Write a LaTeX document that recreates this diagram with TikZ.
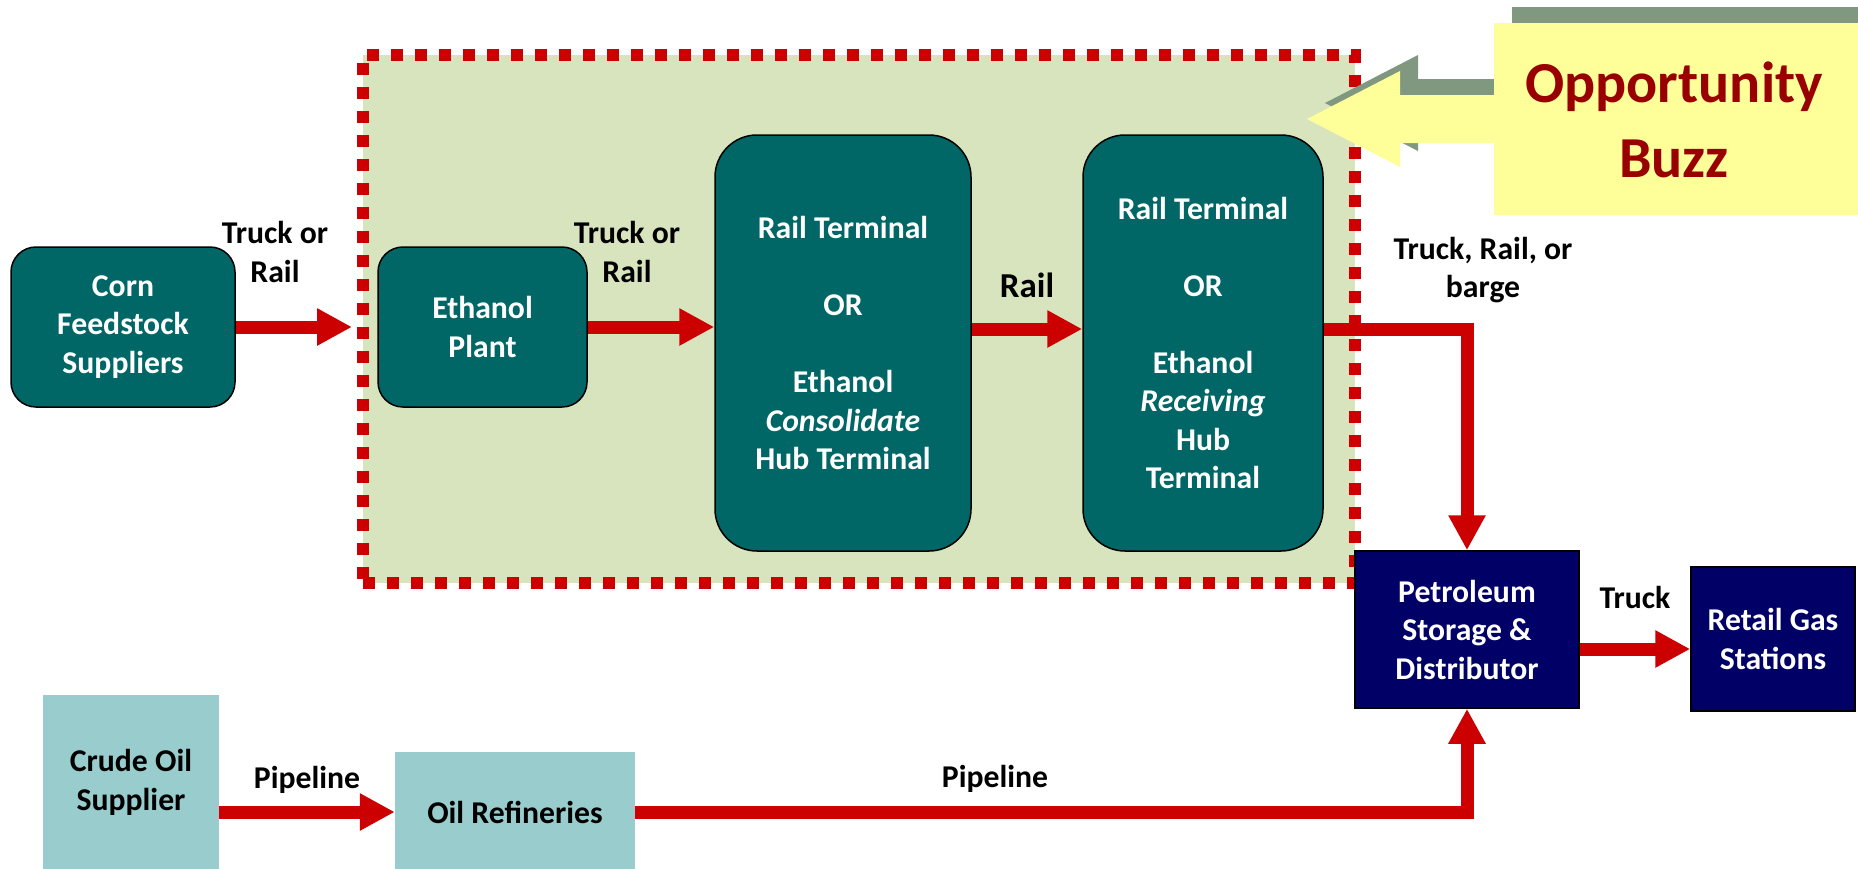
\documentclass[tikz,border=0pt]{standalone}
\usepackage{fontspec}
\setmainfont{Carlito}
\usetikzlibrary{arrows.meta}
\definecolor{hubteal}{RGB}{0,102,102}
\definecolor{zonegreen}{RGB}{216,228,190}
\definecolor{flowred}{RGB}{204,0,0}
\definecolor{depotnavy}{RGB}{0,0,102}
\definecolor{oilteal}{RGB}{153,204,204}
\definecolor{buzzyellow}{RGB}{255,255,153}
\definecolor{buzzshadow}{RGB}{128,152,128}
\definecolor{buzztext}{RGB}{153,0,0}
\begin{document}
\begin{tikzpicture}[x=1pt,y=-1pt,
  lbl/.style={font=\fontsize{31.7}{38.5}\selectfont\bfseries, align=center, inner sep=0pt},
  hub/.style={lbl, draw=black, line width=1.5pt, fill=hubteal, text=white},
  depot/.style={lbl, draw=black, line width=1.5pt, fill=depotnavy, text=white},
  oil/.style={lbl, fill=oilteal, text=black},
  flow/.style={draw=flowred, line width=13pt, line join=miter,
    -{Triangle[length=35pt,width=35pt]}},
]
\useasboundingbox (0,0) rectangle (1858,868);

% ethanol supply-chain zone with dotted red frame
\node[draw=flowred, fill=zonegreen, line width=12pt, dash pattern=on 12pt off 12pt,
      minimum width=992pt, minimum height=528pt, inner sep=0pt] (zone) at (859,319) {};

% rows used by connectors that do not run through box centres
\coordinate (railrow) at (0,329);
\coordinate (truckrow) at (0,649);

% ethanol chain
\node[hub, rounded corners=25pt, minimum width=224pt, minimum height=160pt] (corn) at (123,327)
  {Corn\\Feedstock\\Suppliers};
\node[hub, rounded corners=25pt, minimum width=209pt, minimum height=160pt] (plant) at (482.5,327)
  {Ethanol\\Plant};
\node[hub, rounded corners=42pt, minimum width=256pt, minimum height=416pt] (cons) at (843,343)
  {Rail Terminal\\[38.5pt]OR\\[38.5pt]Ethanol\\\itshape Consolidate\\Hub Terminal};
\node[hub, rounded corners=42pt, minimum width=240pt, minimum height=416pt] (recv) at (1203,343)
  {Rail Terminal\\[38.5pt]OR\\[38.5pt]Ethanol\\\itshape Receiving\\Hub\\Terminal};

% petroleum side
\node[depot, minimum width=224pt, minimum height=157pt] (pet) at (1467,629.5)
  {Petroleum\\Storage \&\\Distributor};
\node[depot, minimum width=164pt, minimum height=144pt] (retail) at (1773,639)
  {Retail Gas\\Stations};
\node[oil, minimum width=176pt, minimum height=175pt] (crude) at (131,782.5)
  {Crude Oil\\Supplier};
\node[oil, minimum width=240pt, minimum height=120pt] (ref) at (515,812)
  {Oil Refineries};

% connectors
\draw[flow, shorten >=5pt] (corn.east) -- (corn.east -| zone.west);
\draw[flow] (plant.east) -- (plant.east -| cons.west);
\draw[flow] (cons.east |- railrow) -- (recv.west |- railrow);
\draw[flow] (recv.east |- railrow) -| (pet.north);
\draw[flow] (pet.east |- truckrow) -- (retail.west |- truckrow);
\draw[flow] (crude.east |- ref.west) -- (ref.west);
\draw[flow] (ref.east) -| (pet.south);

% connector labels
\node[lbl] (l1) at (275,252) {Truck or\\Rail};
\node[lbl] (l2) at (627,252) {Truck or\\Rail};
\node[lbl, font=\fontsize{35}{42}\selectfont\bfseries] (l3) at (1027,285) {Rail};
\node[lbl] (l4) at (1483,270) {Truck, Rail, or\\barge};
\node[lbl] (l5) at (1635,597) {Truck};
\node[lbl] (l6) at (307,780) {Pipeline};
\node[lbl] (l7) at (995,779) {Pipeline};

% call-out arrow with its offset shadow
\fill[buzzshadow, xshift=18pt, yshift=16pt]
  (1307,119) -- (1400,71) -- (1400,95) -- (1494,95) -- (1494,23) -- (1900,23)
  -- (1900,215) -- (1494,215) -- (1494,143) -- (1400,143) -- (1400,167) -- cycle;
\fill[buzzyellow]
  (1307,119) -- (1400,71) -- (1400,95) -- (1494,95) -- (1494,23) -- (1900,23)
  -- (1900,215) -- (1494,215) -- (1494,143) -- (1400,143) -- (1400,167) -- cycle;
\node[lbl, font=\fontsize{58}{75}\selectfont\bfseries, text=buzztext] (buzz) at (1674,120)
  {Opportunity\\Buzz};
\end{tikzpicture}
\end{document}
